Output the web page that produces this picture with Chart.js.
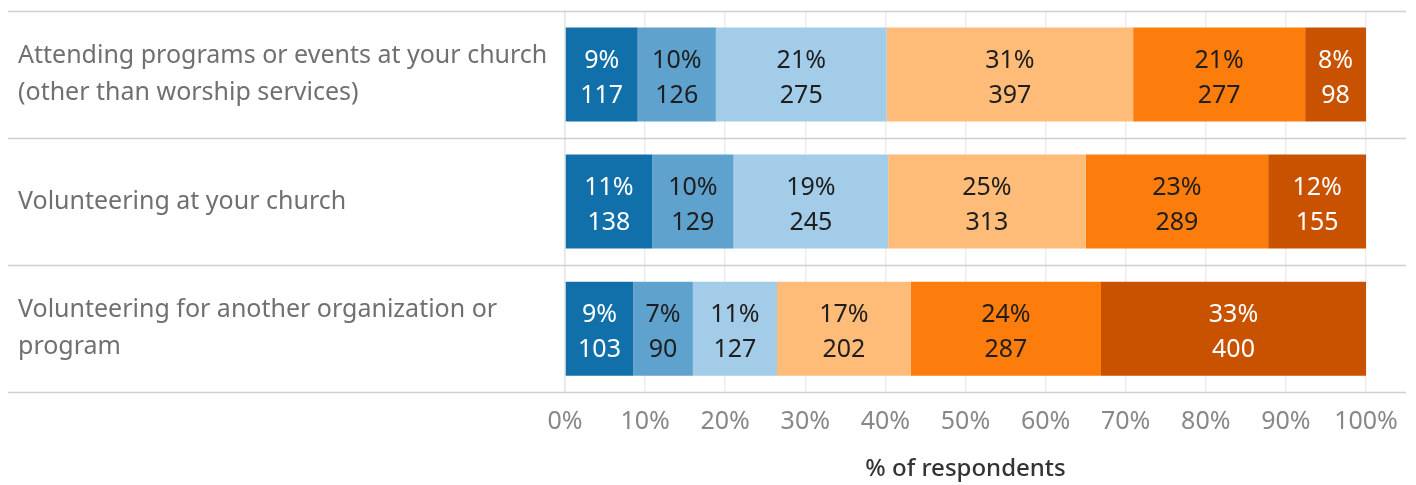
<!DOCTYPE html>
<html>
<head>
<meta charset="utf-8">
<script src="https://cdn.jsdelivr.net/npm/chart.js@4.4.0/dist/chart.umd.min.js"></script>
<style>
  html, body { margin: 0; padding: 0; background: #fff; }
  #wrap { width: 1416px; height: 485px; position: relative; }
</style>
</head>
<body>
<div id="wrap"><canvas id="myChart" width="1416" height="485"></canvas></div>
<script>
// Chart values
const categories = [
  ['Attending programs or events at your church', '(other than worship services)'],
  ['Volunteering at your church'],
  ['Volunteering for another organization or', 'program']
]

// respondents per answer, one array per segment (left to right)
const seg1 = [117, 138, 103]
const seg2 = [126, 129, 90]
const seg3 = [275, 245, 127]
const seg4 = [397, 313, 202]
const seg5 = [277, 289, 287]
const seg6 = [98, 155, 400]

const segColors = ['#1170aa', '#5fa2ce', '#a3cce9', '#ffbc79', '#fc7d0b', '#c85200']
const labelColors = ['#ffffff', '#1e1e1e', '#1e1e1e', '#1e1e1e', '#1e1e1e', '#ffffff']

const xTicks = [0, 10, 20, 30, 40, 50, 60, 70, 80, 90, 100]

const segments = [seg1, seg2, seg3, seg4, seg5, seg6]
const totals = categories.map((c, i) => segments.reduce((s, seg) => s + seg[i], 0))

const FONT = '"Noto Sans"'

// Write the percent and count inside every bar piece
const barLabels = {
  id: 'barLabels',
  afterDatasetsDraw(chart) {
    const ctx = chart.ctx
    ctx.save()
    ctx.font = '400 25px ' + FONT
    ctx.textAlign = 'center'
    ctx.textBaseline = 'middle'
    chart.data.datasets.forEach((ds, di) => {
      const meta = chart.getDatasetMeta(di)
      meta.data.forEach((bar, i) => {
        const cx = (bar.x + bar.base) / 2
        const count = segments[di][i]
        ctx.fillStyle = labelColors[di]
        ctx.fillText(Math.round(ds.data[i]) + '%', cx, bar.y - 14)
        ctx.fillText(String(count), cx, bar.y + 21)
      })
    })
    ctx.restore()
  }
}

// Row separators running across the labels too
const rowLines = {
  id: 'rowLines',
  beforeDatasetsDraw(chart) {
    const ctx = chart.ctx
    const y = chart.scales.y
    const band = y.getPixelForValue(1) - y.getPixelForValue(0)
    ctx.save()
    ctx.strokeStyle = '#cfcfcf'
    ctx.lineWidth = 1.5
    for (let i = 0; i <= categories.length; i++) {
      const py = Math.round(y.getPixelForValue(i) - band / 2) + 0.5
      ctx.beginPath()
      ctx.moveTo(8, py)
      ctx.lineTo(1406, py)
      ctx.stroke()
    }
    ctx.restore()
  }
}

const createChart = () => {
  const data = {
    labels: categories,
    datasets: segments.map((seg, k) => ({
      label: 'seg' + (k + 1),
      data: seg.map((v, i) => v / totals[i] * 100),
      backgroundColor: segColors[k],
      borderWidth: 0,
      categoryPercentage: 0.74,
      barPercentage: 1
    }))
  }

  const config = {
    type: 'bar',
    data: data,
    options: {
      indexAxis: 'y',
      responsive: false,
      animation: false,
      layout: { padding: { left: 18, right: 50, top: 11, bottom: 1 } },
      plugins: {
        legend: { display: false },
        tooltip: { enabled: false }
      },
      scales: {
        x: {
          stacked: true,
          min: 0,
          max: 100,
          afterBuildTicks: (scale) => { scale.ticks = xTicks.map(v => ({ value: v })) },
          grid: { color: '#ededed', lineWidth: 1.5, drawTicks: false },
          border: { display: false },
          ticks: {
            color: '#888888',
            font: { family: FONT, size: 25 },
            padding: 15,
            callback: (v) => v + '%'
          },
          title: {
            display: true,
            text: '% of respondents',
            color: '#333333',
            font: { family: FONT, size: 24, weight: '500' },
            padding: { top: 3, bottom: 0 }
          }
        },
        y: {
          stacked: true,
          grid: { display: false },
          border: { display: true, color: '#e6e6e6', width: 1.5 },
          afterFit: (scale) => {
            scale.width = 547
            scale.paddingTop = 0
            scale.paddingBottom = 0
          },
          ticks: {
            crossAlign: 'far',
            color: '#707070',
            font: { family: FONT, size: 25, lineHeight: 1.48 },
            padding: 8
          }
        }
      }
    },
    plugins: [rowLines, barLabels]
  }

  chart = new Chart(document.getElementById('myChart'), config)
}

let chart = undefined
createChart()
</script>
</body>
</html>
